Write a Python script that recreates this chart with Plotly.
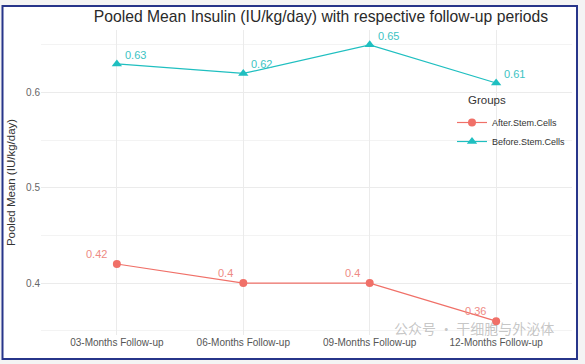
import plotly.graph_objects as go

categories = ["03-Months Follow-up", "06-Months Follow-up", "09-Months Follow-up", "12-Months Follow-up"]
after_vals = [0.42, 0.40, 0.40, 0.36]
before_vals = [0.63, 0.62, 0.65, 0.61]
after_labels = ["0.42", "0.4", "0.4", "0.36"]
before_labels = ["0.63", "0.62", "0.65", "0.61"]
y_tickvals = [0.4, 0.5, 0.6]
y_ticktext = ["0.4", "0.5", "0.6"]

RED = "#F07068"
TEAL = "#1FBFC0"
FONT = "Liberation Sans, Arial, sans-serif"

L, R, T, B = 41, 13, 30, 29
PW, PH = 585 - L - R, 364 - T - B


def px(x):
    return (x - L) / PW


def py(y):
    return (364 - B - y) / PH


fig = go.Figure()
fig.add_trace(go.Scatter(
    x=categories, y=after_vals, mode="lines+markers", name="After.Stem.Cells",
    line=dict(color=RED, width=1.2),
    marker=dict(symbol="circle", size=8, color=RED),
))
fig.add_trace(go.Scatter(
    x=categories, y=before_vals, mode="lines+markers", name="Before.Stem.Cells",
    line=dict(color=TEAL, width=1.2),
    marker=dict(symbol="triangle-up", size=9, color=TEAL),
))

annotations = []
for c, v, t in zip(categories, after_vals, after_labels):
    annotations.append(dict(x=c, y=v, text=t, showarrow=False, xanchor="right", yanchor="middle",
                            xshift=-8, yshift=10, font=dict(size=11, color="#EE8A84", family=FONT)))
for c, v, t in zip(categories, before_vals, before_labels):
    annotations.append(dict(x=c, y=v, text=t, showarrow=False, xanchor="left", yanchor="middle",
                            xshift=6, yshift=9, font=dict(size=11, color="#3CC3C3", family=FONT)))

# legend title
annotations.append(dict(xref="paper", yref="paper", x=px(466), y=py(100), xanchor="left", yanchor="middle",
                        text="Groups", showarrow=False, font=dict(size=11.5, color="#333333", family=FONT)))

# watermark
annotations.append(dict(xref="paper", yref="paper", x=px(556), y=py(328), xanchor="right", yanchor="middle",
                        text="公众号 · 干细胞与外泌体", showarrow=False,
                        font=dict(size=14, color="rgba(150,150,150,0.55)", family="Noto Sans CJK SC")))

shapes = [dict(type="rect", xref="paper", yref="paper", layer="below",
               x0=px(2.5), x1=px(577), y0=py(359), y1=py(6),
               line=dict(color="#27358A", width=2), fillcolor="white")]

fig.update_layout(
    width=585, height=364,
    margin=dict(l=L, r=R, t=T, b=B),
    paper_bgcolor="#F4F4F4",
    plot_bgcolor="rgba(0,0,0,0)",
    font=dict(family=FONT, color="#4D4D4D"),
    title=dict(text="Pooled Mean Insulin (IU/kg/day) with respective follow-up periods",
               x=321/585, xanchor="center", y=1-17/364, yanchor="middle",
               font=dict(size=15.7, color="#2A2A2A", family=FONT)),
    xaxis=dict(type="category", categoryorder="array", categoryarray=categories,
               range=[-0.6, 3.6], showgrid=True, gridcolor="#EBEBEB", gridwidth=1,
               zeroline=False, showline=False, ticks="", automargin=False,
               tickfont=dict(size=10, color="#555555")),
    yaxis=dict(range=[0.3455, 0.6656], tickvals=y_tickvals, ticktext=y_ticktext,
               showgrid=True, gridcolor="#EBEBEB", gridwidth=1,
               minor=dict(dtick=0.05, showgrid=True, gridcolor="#F3F3F3", gridwidth=0.8),
               zeroline=False, showline=False, ticks="", automargin=False,
               title=dict(text="Pooled Mean (IU/kg/day)", font=dict(size=11.5, color="#333333"), standoff=8),
               tickfont=dict(size=10, color="#666666")),
    legend=dict(x=px(452), y=py(108), xanchor="left", yanchor="top",
                bgcolor="rgba(255,255,255,0)", borderwidth=0, itemwidth=30,
                font=dict(size=9, color="#333333"), tracegroupgap=2),
    annotations=annotations,
    shapes=shapes,
    showlegend=True,
)

fig.write_html("out.html")
